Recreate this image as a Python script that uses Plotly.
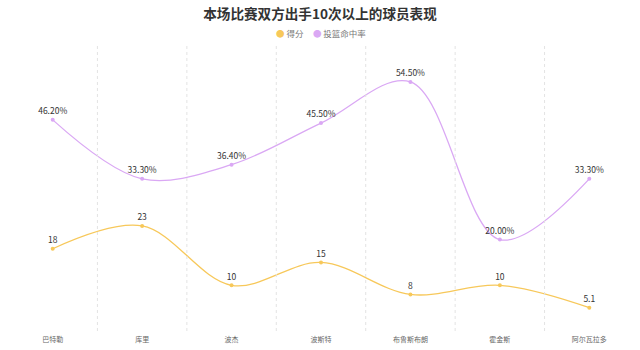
import plotly.graph_objects as go

players = ["巴特勒", "库里", "波杰", "波斯特", "布鲁斯布朗", "霍金斯", "阿尔瓦拉多"]
points = [18, 23, 10, 15, 8, 10, 5.1]
fg_pct = [46.20, 33.30, 36.40, 45.50, 54.50, 20.00, 33.30]

YELLOW = "#F7C85A"
PURPLE = "#DAA8F4"
FONT = "Noto Sans CJK SC, Noto Sans, sans-serif"

fig = go.Figure()

fig.add_trace(go.Scatter(
    x=players, y=points, mode="lines+markers+text", name="得分",
    line=dict(color=YELLOW, width=1.3, shape="spline", smoothing=1),
    marker=dict(color=YELLOW, size=4),
    text=[f"{v:g}" for v in points], textposition="top center",
    textfont=dict(size=8.5, color="#333333"), showlegend=False,
))
fig.add_trace(go.Scatter(
    x=players, y=fg_pct, mode="lines+markers+text", name="投篮命中率",
    line=dict(color=PURPLE, width=1.3, shape="spline", smoothing=1),
    marker=dict(color=PURPLE, size=4),
    text=[f"{v:.2f}%" for v in fg_pct], textposition="top center",
    textfont=dict(size=8.5, color="#333333"), showlegend=False,
))

for i in range(len(players) - 1):
    fig.add_shape(type="line", xref="x", yref="paper", x0=i + 0.5, x1=i + 0.5,
                  y0=0, y1=1, line=dict(color="#E3E3E3", width=1, dash="dot"))

legend_text = (f"<span style='color:{YELLOW}'>●</span> 得分"
               f"&nbsp;&nbsp;&nbsp;&nbsp;&nbsp;<span style='color:{PURPLE}'>●</span> 投篮命中率")
fig.add_annotation(text=legend_text, xref="paper", yref="paper", x=0.5, y=1.0,
                   xanchor="center", yanchor="bottom", yshift=3, showarrow=False,
                   font=dict(size=8.5, color="#777777", family=FONT))

fig.update_layout(
    width=640, height=350,
    margin=dict(l=8, r=6, t=44, b=17),
    paper_bgcolor="white", plot_bgcolor="white",
    font=dict(family=FONT, color="#333333"),
    title=dict(text="<b>本场比赛双方出手10次以上的球员表现</b>", x=0.5, xanchor="center",
               y=0.96, yanchor="middle", font=dict(size=13.6, color="#333333")),
    showlegend=False,
    xaxis=dict(type="category", range=[-0.5, len(players) - 0.5], showgrid=False,
               showline=False, zeroline=False, ticks="", ticklabelstandoff=3,
               tickfont=dict(size=7, color="#666666")),
    yaxis=dict(range=[0, 62.8], visible=False, showgrid=False, zeroline=False),
)

fig.write_html("out.html")
